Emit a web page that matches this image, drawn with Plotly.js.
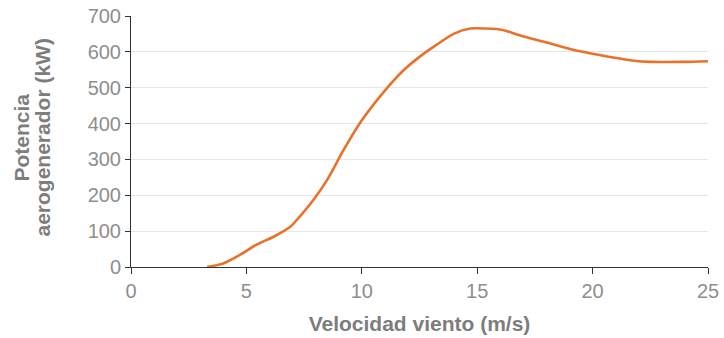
<!DOCTYPE html>
<html>
<head>
<meta charset="utf-8">
<script src="https://cdn.plot.ly/plotly-3.0.1.min.js"></script>
<style>html,body{margin:0;padding:0;background:#fff;}#chart{width:724px;height:338px;}</style>
</head>
<body>
<div id="chart"></div>
<script>
const windSpeed = [3.3, 4.0, 4.7, 5.4, 6.2, 6.9, 7.3, 7.9, 8.5, 9.2, 10.0, 11.0, 11.8, 12.5, 13.2, 14.0, 14.7, 15.4, 16.1, 16.8, 17.9, 19.2, 20.3, 21.8, 22.5, 23.9, 25.0];
const power = [0, 10, 33, 61, 85, 112, 140, 187, 243, 325, 409, 492, 548, 586, 618, 651, 665, 665, 661, 647, 628, 605, 591, 575, 572, 572, 574];
const xTicks = [0, 5, 10, 15, 20, 25];
const yTicks = [0, 100, 200, 300, 400, 500, 600, 700];
const yTitleLines = ['Potencia', 'aerogenerador (kW)'];
const xTitle = 'Velocidad viento (m/s)';

const trace = {
  x: windSpeed, y: power, type: 'scatter', mode: 'lines',
  line: {color: '#E8722A', width: 2.6, shape: 'spline', smoothing: 0.8},
  hoverinfo: 'skip'
};
const tickFont = {family: 'Liberation Sans, Arial, sans-serif', size: 20, color: '#8e8e8e'};
const titleFont = {family: 'Liberation Sans, Arial, sans-serif', size: 21, color: '#7d7d7d', weight: 'bold'};
const plotW = 724 - 131 - 16, plotH = 338 - 16 - 71;
const layout = {
  width: 724, height: 338,
  margin: {l: 131, r: 16, t: 16, b: 71},
  paper_bgcolor: '#fff', plot_bgcolor: '#fff',
  showlegend: false,
  xaxis: {
    range: [0, 25], tickvals: xTicks, ticktext: xTicks.map(String),
    showgrid: false, zeroline: false,
    showline: true, linecolor: '#333', linewidth: 1,
    ticks: 'outside', ticklen: 6, tickcolor: '#333',
    tickfont: tickFont,
    title: {text: xTitle, font: titleFont, standoff: 15}
  },
  yaxis: {
    range: [0, 700], tickvals: yTicks, ticktext: yTicks.map(String),
    showgrid: true, gridcolor: '#e6e6e6', gridwidth: 1, zeroline: false,
    showline: true, linecolor: '#333', linewidth: 1,
    ticks: 'outside', ticklen: 5, tickcolor: '#333',
    tickfont: tickFont
  },
  annotations: yTitleLines.map((t, i) => ({
    text: t, textangle: -90, showarrow: false,
    xref: 'paper', yref: 'paper',
    x: ((i === 0 ? 21 : 42) - 131) / plotW,
    y: (267 - 137.5) / plotH,
    xanchor: 'center', yanchor: 'middle',
    font: titleFont
  }))
};
Plotly.newPlot('chart', [trace], layout, {staticPlot: true, displayModeBar: false});
</script>
</body>
</html>
